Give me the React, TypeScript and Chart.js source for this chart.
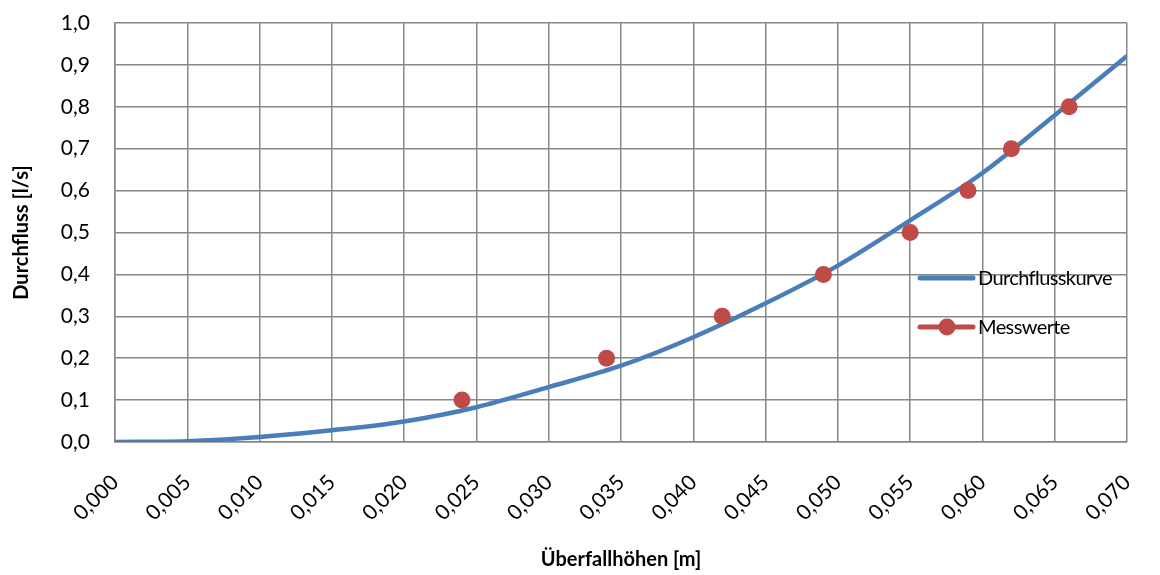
import React, { useEffect, useRef } from "react";
import { Chart, registerables } from "chart.js";

Chart.register(...registerables);

const curveX = [0, 0.005, 0.01, 0.015, 0.02, 0.025, 0.03, 0.035, 0.04, 0.045, 0.05, 0.055, 0.06, 0.065, 0.07];
const curveY = [0, 0.002, 0.012, 0.028, 0.049, 0.083, 0.131, 0.182, 0.25, 0.331, 0.421, 0.529, 0.642, 0.78, 0.921];
const messX = [0.024, 0.034, 0.042, 0.049, 0.055, 0.059, 0.062, 0.066];
const messY = [0.1, 0.2, 0.3, 0.4, 0.5, 0.6, 0.7, 0.8];

const BLUE = "#4a7ebb";
const RED = "#be4b48";
const GRID = "#878787";
const FONT = "Lato, 'Open Sans', sans-serif";

export default function App() {
  const ref = useRef<HTMLCanvasElement>(null);
  useEffect(() => {
    const canvas = ref.current!;
    const overlay = {
      id: "overlay",
      afterDraw(chart: any) {
        const ctx = chart.ctx;
        const area = chart.chartArea;
        ctx.save();
        ctx.fillStyle = "#000";
        ctx.font = `bold 20px ${FONT}`;
        ctx.textAlign = "center";
        ctx.textBaseline = "middle";
        ctx.fillText("Überfallhöhen [m]", (area.left + area.right) / 2, 560);
        ctx.save();
        ctx.translate(22, (area.top + area.bottom) / 2);
        ctx.rotate(-Math.PI / 2);
        ctx.fillText("Durchfluss [l/s]", 0, 0);
        ctx.restore();
        // legend
        ctx.lineCap = "round";
        ctx.lineWidth = 5;
        ctx.strokeStyle = BLUE;
        ctx.beginPath();
        ctx.moveTo(920, 278);
        ctx.lineTo(973, 278);
        ctx.stroke();
        ctx.strokeStyle = RED;
        ctx.beginPath();
        ctx.moveTo(920, 327);
        ctx.lineTo(973, 327);
        ctx.stroke();
        ctx.fillStyle = RED;
        ctx.beginPath();
        ctx.arc(947, 327, 8.5, 0, Math.PI * 2);
        ctx.fill();
        ctx.fillStyle = "#000";
        ctx.font = `20px ${FONT}`;
        try { (ctx as any).letterSpacing = "-0.6px"; } catch (e) {}
        ctx.textAlign = "left";
        ctx.fillText("Durchflusskurve", 978, 279);
        ctx.fillText("Messwerte", 978, 328);
        ctx.restore();
      },
    };
    const chart = new Chart(canvas, {
      type: "scatter",
      data: {
        datasets: [
          {
            label: "Messwerte",
            data: messX.map((x, i) => ({ x, y: messY[i] })),
            backgroundColor: RED,
            borderColor: RED,
            pointRadius: 8.5,
            pointBorderWidth: 0,
            showLine: false,
          },
          {
            label: "Durchflusskurve",
            data: curveX.map((x, i) => ({ x, y: curveY[i] })),
            borderColor: BLUE,
            borderWidth: 4.5,
            pointRadius: 0,
            showLine: true,
            cubicInterpolationMode: "monotone",
          } as any,
        ],
      },
      options: {
        animation: false,
        responsive: false,
        layout: { padding: { left: 0, top: 23, right: 33, bottom: 0 } },
        plugins: { legend: { display: false }, tooltip: { enabled: false } },
        scales: {
          x: {
            type: "linear",
            min: 0,
            max: 0.07,
            afterFit: (s: any) => { s.height = 133; },
            grid: { color: GRID, lineWidth: 1.5, drawTicks: true, tickLength: 28, tickColor: "rgba(0,0,0,0)" },
            border: { color: GRID, width: 1.5 },
            ticks: {
              stepSize: 0.005,
              maxRotation: 45,
              minRotation: 45,
              padding: 0,
              color: "#000",
              font: { family: FONT, size: 21 },
              callback: (v: any) => Number(v).toFixed(3).replace(".", ","),
            },
          },
          y: {
            min: 0,
            max: 1,
            afterFit: (s: any) => { s.width = 115; },
            grid: { color: GRID, lineWidth: 1.5, drawTicks: true, tickLength: 25, tickColor: "rgba(0,0,0,0)" },
            border: { color: GRID, width: 1.5 },
            ticks: {
              stepSize: 0.1,
              padding: 0,
              color: "#000",
              font: { family: FONT, size: 21 },
              callback: (v: any) => Number(v).toFixed(1).replace(".", ","),
            },
          },
        },
      },
      plugins: [overlay],
    });
    return () => chart.destroy();
  }, []);
  return (
    <div style={{ position: "fixed", left: 0, top: 0, width: 1160, height: 575, background: "#fff" }}>
      <canvas ref={ref} width={1160} height={575} style={{ width: 1160, height: 575 }} />
    </div>
  );
}
